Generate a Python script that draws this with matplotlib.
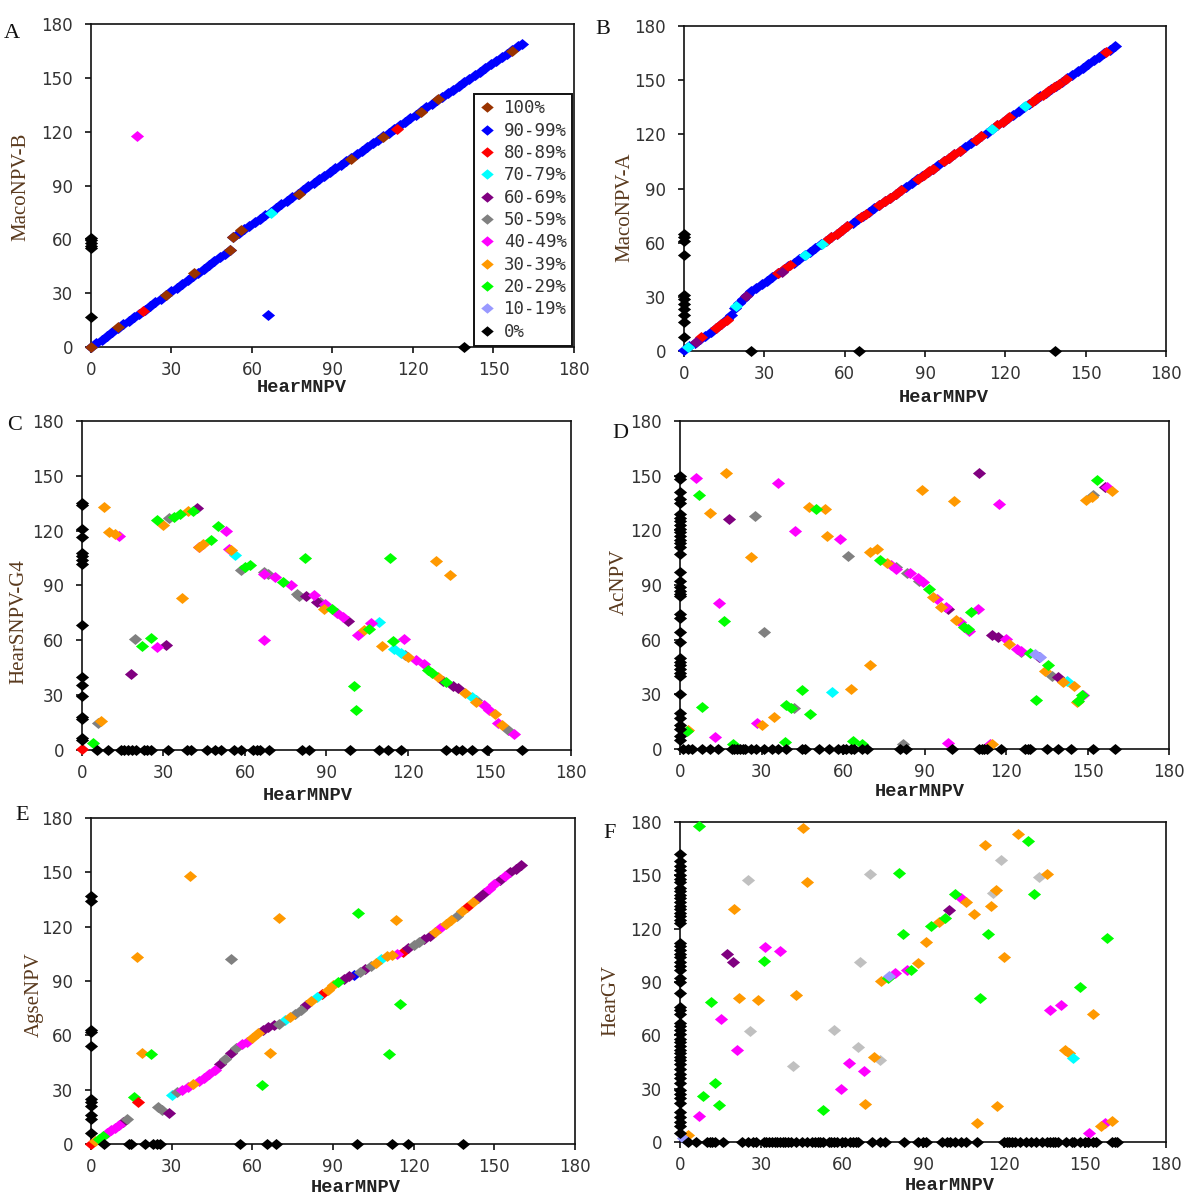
import matplotlib
matplotlib.use("Agg")
import matplotlib.pyplot as plt
from matplotlib.lines import Line2D

# identity classes, in legend order
cat_codes = ["100", "90", "80", "70", "60", "50", "40", "30", "20", "10", "0"]
cat_labels = ["100%", "90-99%", "80-89%", "70-79%", "60-69%", "50-59%",
              "40-49%", "30-39%", "20-29%", "10-19%", "0%"]
cat_colors = ["#993300", "#0000ff", "#ff0000", "#00ffff", "#800080", "#808080",
              "#ff00ff", "#ff9900", "#00ff00", "#9999ff", "#000000"]
silver = "#c0c0c0"

ticks = [0, 30, 60, 90, 120, 150, 180]

# ---------------- A : HearMNPV vs MacoNPV-B ----------------
a_line_x = [0, 2, 4, 6, 8, 10, 12, 14, 16, 18, 20, 22, 24, 26, 28, 30, 32, 34, 36, 38,
            40, 42, 44, 46, 48, 50, 52,
            53, 55, 57, 59, 61, 63, 65, 67, 69, 71, 73, 75, 77, 79, 81, 83, 85, 87, 89,
            91, 93, 95, 97, 99, 101, 103, 105, 107, 109, 111, 113, 115, 117, 119, 121,
            123, 125, 127, 129, 131, 133, 135, 137, 139, 141, 143, 145, 147, 149, 151,
            153, 155, 157, 159, 160.5]
a_line_y = [0, 2, 4, 6, 8.5, 10.5, 13, 14.5, 16.5, 18.5, 20.5, 23, 25, 27, 29, 31, 33, 35,
            37.5, 39.5, 41.5, 43.5, 45.5, 48, 50, 52, 54,
            61.5, 63.5, 65.5, 67.5, 69.5, 71.5, 73.5, 75.5, 77.5, 79.5, 81.5, 83.5, 85.5,
            87.5, 89.5, 91.5, 93.5, 95.5, 97.5, 99.5, 101.5, 103.5, 105.5, 107.5, 109.5,
            111.5, 113.5, 115.5, 117.5, 119.5, 121.5, 123.5, 125.5, 127.5, 129.5, 131.5,
            133.5, 135.5, 137.5, 139.5, 141.5, 143.5, 145.5, 147.5, 149.5, 151.5, 153.5,
            155.5, 157.5, 159.5, 161.5, 163.5, 165.5, 167.5, 169]
a_brown_x = [0, 10, 28, 38.5, 52, 53, 56, 77.5, 97, 109, 123, 129.5, 157]
a_brown_y = [0, 11, 29, 41, 54, 61.5, 65, 85, 105, 117, 131, 138, 165]
a_blue_x = [66]
a_blue_y = [18]
a_red_x = [19.5, 114]
a_red_y = [20, 121.5]
a_cyan_x = [67]
a_cyan_y = [74.5]
a_magenta_x = [17]
a_magenta_y = [117.5]
a_zero_on_y = [17, 55, 56.5, 58, 59.5, 61]
a_zero_on_x = [139]

# ---------------- B : HearMNPV vs MacoNPV-A ----------------
b_line_x = [0, 2, 4, 6, 8, 10, 12, 14, 16, 17.5, 19, 20.5, 22, 23.5,
            25, 27, 29, 31, 33, 35, 37, 39, 41, 43, 45, 47, 49, 51, 53, 55, 57, 59, 61,
            63, 65, 67, 69, 71, 73, 75, 77, 79, 81, 83, 85, 87, 89, 91, 93, 95, 97, 99,
            101, 103, 105, 107, 109, 111, 113, 115, 117, 119, 121, 123, 125, 127, 129,
            131, 133, 135, 137, 139, 141, 143, 145, 147, 149, 151, 153, 155, 157, 159, 161]
b_line_y = [0.5, 2.5, 4.5, 6.5, 8.5, 10.5, 13, 15, 17.5, 20, 24, 26.5, 29, 31,
            33, 35, 37, 39, 41, 43, 45, 47, 49, 51, 53, 55, 57, 59, 61, 63, 65, 67, 69,
            71, 73, 75, 77, 79, 81, 83, 85, 87, 89, 91, 93, 95, 97, 99, 101, 103, 105, 107,
            109, 111, 113, 115, 117, 119, 121, 123, 125, 127, 129, 131, 133, 135, 137,
            139, 141, 143, 145, 147, 149, 151, 153, 155, 157, 159, 161, 163, 165, 167, 169]
b_red_x = [6.5, 12, 14, 16, 35, 37.5, 39.5, 53, 55, 57, 59, 61, 66, 68, 73, 75, 77, 79,
           81, 87.5, 89.5, 91.5, 93, 97, 99, 101, 103, 109, 111, 117, 119, 121.5, 130,
           132, 134, 136, 138, 140, 142.5, 157.5]
b_red_y = [7.5, 13, 15, 17, 43, 45.5, 47.5, 61, 63, 65, 67, 69, 74, 76, 81, 83, 85, 87,
           89, 95.5, 97.5, 99.5, 101, 105, 107, 109, 111, 117, 119, 125, 127, 129.5, 138,
           140, 142, 144, 146, 148, 150.5, 165.5]
b_cyan_x = [1.5, 19.5, 45, 51.5, 115, 127.5]
b_cyan_y = [2, 25, 53, 59.5, 123, 135.5]
b_purple_x = [4.5, 23, 36.5]
b_purple_y = [5, 30.5, 44]
b_zero_on_y = [8, 16, 20, 23, 26, 29, 31, 53, 61, 63, 65]
b_zero_on_x = [25, 65.5, 138.5]

# ---------------- C : HearMNPV vs HearSNPV-G4 ----------------
c_orange_x = [8, 10, 12, 7, 37, 30, 39, 44.5, 43, 55, 89, 104, 110.5, 130.5, 135.5, 120,
              131, 141, 145, 152, 154.5]
c_orange_y = [133, 119.5, 118, 16, 83, 123, 130.5, 112.5, 111, 109.5, 77, 65.5, 57, 103.5,
              96, 51, 40, 31, 26.5, 19.5, 13.5]
c_green_x = [27.5, 34, 36, 41, 50, 47.5, 60, 62, 74, 92, 82, 113.5, 100, 101, 105.5,
             114.5, 127.5, 129, 134, 25.5, 22, 4]
c_green_y = [126, 127.5, 129, 131, 122.5, 115, 100, 101, 92, 77, 105, 105, 35, 22, 66,
             59.5, 44, 42, 37, 61, 57, 4]
c_magenta_x = [13.5, 43, 53, 54, 67, 71, 77, 85.5, 89.5, 94, 96, 67, 101.5, 106.5, 118.5,
               123, 126, 148, 150, 153, 159, 27.5]
c_magenta_y = [117, 111, 120, 110, 96.5, 94.5, 90, 85, 80, 75, 73, 60, 63, 69.5, 60.5,
               49, 47, 24.5, 22, 15, 9, 56.5]
c_purple_x = [42.5, 18, 31, 82.5, 86.5, 98, 133, 136.5, 138.5]
c_purple_y = [132.5, 41.5, 57.5, 84, 81, 70.5, 37.5, 35, 34]
c_gray_x = [19.5, 32, 58.5, 67, 68.5, 79, 80, 87.5, 119, 145, 157, 6]
c_gray_y = [60.5, 127, 98.5, 97.5, 96.5, 85.5, 84, 81, 52, 27.5, 11, 15]
c_cyan_x = [56.5, 109.5, 115, 117.5, 143.5]
c_cyan_y = [106.5, 70, 55.5, 53, 29]
c_red_x = [0]
c_red_y = [0.5]
c_zero_on_y = [135, 134, 121, 116.5, 107.5, 106, 104, 102, 68.5, 40, 35.5, 29.5, 18, 17,
               6.5, 5.5]
c_zero_on_x = [5.5, 9.5, 14.5, 15.5, 17, 18.5, 20, 23, 24, 25.5, 31.5, 38.5, 40, 46, 49,
               51, 56, 58.5, 63, 64.5, 65.5, 69, 81, 83.5, 98.5, 109.5, 112.5, 117.5, 134,
               137.5, 140, 143.5, 149, 162]

# ---------------- D : HearMNPV vs AcNPV ----------------
d_orange_x = [17, 11, 26, 47.5, 53.5, 54, 70, 72.5, 76, 89, 101, 93, 96, 101.5, 121,
              134.5, 141, 145, 146, 149.5, 151.5, 159, 70, 63, 34.5, 30, 3, 115]
d_orange_y = [151.5, 129.5, 105.5, 133, 131.5, 117, 108, 110, 102, 142, 136, 83.5, 78,
              71, 57.5, 43, 37, 34.5, 26, 136.5, 138.5, 141.5, 46, 33, 17.5, 13, 10.5, 2.5]
d_green_x = [7, 50, 16, 8, 39, 41, 45, 48, 38.5, 19.5, 63.5, 67, 73.5, 91.5, 104.5, 106,
             107, 129, 135.5, 131, 146.5, 148, 153.5, 2.5]
d_green_y = [139.5, 132, 70.5, 23, 24, 22.5, 32.5, 19, 4, 2.5, 4.5, 3, 104, 88, 67, 66,
             75, 52.5, 46, 27, 26.5, 29.5, 147.5, 10]
d_magenta_x = [6, 36, 117.5, 42.5, 59, 14.5, 77.5, 79.5, 84.5, 87.5, 89.5, 94.5, 98, 103,
               106.5, 109.5, 120, 124, 125.5, 28.5, 13, 98.5, 114, 148.5, 157]
d_magenta_y = [148.5, 146, 134.5, 119.5, 115.5, 80, 101, 99, 96.5, 94, 91.5, 82.5, 78,
               70, 65, 77, 60.5, 55, 54, 14.5, 6.5, 3.5, 3, 29.5, 144]
d_purple_x = [18, 110, 98.5, 115, 117, 132, 139, 156.5]
d_purple_y = [126, 151.5, 77, 62.5, 61.5, 50.5, 39.5, 144]
d_gray_x = [27.5, 62, 31, 42, 79.5, 83.5, 88, 125.5, 137, 152, 82]
d_gray_y = [128, 106, 64.5, 22.5, 100, 96.5, 92.5, 53, 40, 139.5, 3]
d_cyan_x = [56, 142.5]
d_cyan_y = [31.5, 37.5]
d_lilac_x = [130.5, 132.5]
d_lilac_y = [52, 50.5]
d_zero_on_y = [150, 148, 141, 137, 135, 129, 127, 125, 123, 121, 119, 117, 115, 113, 111,
               107, 97, 92, 89, 87, 85, 84, 74, 72, 64, 59, 50, 48, 46, 44, 42, 40, 30, 20,
               17, 13, 11, 7, 5]
d_zero_on_x = [1, 3, 4.5, 8, 11, 14, 19, 20, 21, 22, 23, 24, 26, 28, 31, 34, 36, 39, 45,
               46, 51, 55, 58, 60, 61, 63, 64, 67, 69, 81, 83, 100, 110, 111, 112, 113, 118,
               127, 128, 129, 135, 139, 144, 152, 160]

# ---------------- E : HearMNPV vs AgseNPV ----------------
e_line_x = [0, 1.5, 3, 4.5, 6, 7.5, 9, 10.5, 12, 13.5,
            30, 32, 34, 36, 38, 40, 42, 44, 46, 48, 50, 52, 54, 56, 58, 60, 62, 64, 66, 68,
            70, 72, 74, 76, 78, 80, 82, 84, 86, 88, 90, 92, 94, 96, 98, 100, 102, 104, 106,
            108, 110, 112, 114, 116, 118, 120, 122, 124, 126, 128, 130, 132, 134, 136, 138,
            140, 142, 144, 146, 148, 150, 152, 154, 156, 158, 160]
e_line_y = [0, 1.5, 3, 4.5, 6, 7.5, 9, 10.5, 12, 14,
            27, 28.5, 30, 31.5, 33, 34.5, 36.5, 38.5, 41, 44, 47, 50, 53, 55, 56.5, 58.5,
            61, 63, 64.5, 65.5, 66.5, 68.5, 70, 71.5, 74, 76.5, 79, 81, 83, 85, 87.5, 89.5,
            91, 92.5, 93.5, 95, 96.5, 98.5, 100, 102, 103.5, 104.5, 105, 106, 108, 110,
            111.5, 113, 115, 117, 119.5, 121.5, 123.5, 126, 128.5, 131, 133.5, 136, 138.5,
            141, 143.5, 146, 148, 150, 152, 154]
e_line_cat = ["80", "30", "20", "20", "40", "40", "40", "40", "60", "50",
              "70", "50", "40", "40", "30", "40", "40", "40", "40", "60",
              "50", "60", "50", "40", "40", "30", "30", "60", "60", "60",
              "50", "70", "30", "50", "50", "60", "30", "70", "80", "30",
              "30", "20", "60", "60", "90", "50", "60", "50", "30", "70",
              "30", "30", "40", "80", "60", "50", "50", "60", "60", "30",
              "40", "30", "30", "50", "30", "80", "30", "60", "60", "40",
              "40", "60", "40", "60", "60", "60"]
e_orange_x = [37, 70, 113.5, 17, 19, 66.5]
e_orange_y = [148, 125, 123.5, 103, 50, 50]
e_green_x = [99.5, 22.5, 63.5, 111, 115, 16]
e_green_y = [127.5, 49.5, 32.5, 49.5, 77.5, 26]
e_gray_x = [52, 25, 26.5]
e_gray_y = [102, 20.5, 19]
e_purple_x = [29]
e_purple_y = [17]
e_red_x = [17.5]
e_red_y = [23]
e_zero_on_y = [137, 134, 63, 62, 54, 25, 23, 21, 16, 14, 6]
e_zero_on_x = [5, 14, 15, 20, 23, 24.5, 25.5, 55.5, 65.5, 69, 99, 112, 118, 138.5]

# ---------------- F : HearMNPV vs HearGV ----------------
f_green_x = [7, 81, 11.5, 31, 13, 14.5, 8.5, 53, 82.5, 102, 93, 98, 85.5, 114, 111, 129,
             131, 148, 158, 77]
f_green_y = [178, 151.5, 78.5, 102, 33, 21, 26, 18, 117, 139.5, 121.5, 126, 97, 117, 81,
             169.5, 139.5, 87, 114.5, 92]
f_orange_x = [45.5, 47, 20, 22, 29, 43, 74.5, 88, 91, 96, 106, 109, 113, 115, 117, 120,
              125, 136, 142.5, 153, 156, 160, 72, 68.5, 110, 117.5, 3, 144]
f_orange_y = [176.5, 146.5, 131, 81, 80, 82.5, 90.5, 100.5, 112.5, 124, 135, 128.5, 167,
              133, 141.5, 104, 173, 150.5, 51.5, 72, 9, 12, 48, 21.5, 10.5, 20.5, 4, 50]
f_magenta_x = [7, 15, 21, 31.5, 37, 59.5, 62.5, 68, 79.5, 84, 104, 137, 141, 151.5, 157.5]
f_magenta_y = [14.5, 69, 52, 109.5, 107.5, 30, 44.5, 40, 95, 96.5, 137, 74.5, 77, 5, 10.5]
f_purple_x = [17.5, 19.5, 99.5]
f_purple_y = [105.5, 101.5, 130.5]
f_silver_x = [25, 26, 42, 57, 66, 66.5, 70.5, 74, 116, 119, 133]
f_silver_y = [147.5, 62.5, 42.5, 63, 53.5, 101.5, 150.5, 46, 140, 158.5, 149]
f_lilac_x = [77.5, 1]
f_lilac_y = [93.5, 2]
f_cyan_x = [145.5]
f_cyan_y = [47.5]
f_zero_on_y = [162, 158, 155, 153, 150, 148, 146, 143, 141, 139, 137, 135, 133, 131, 129,
               127, 125, 123, 112, 110, 108, 106, 104, 101, 99, 97, 92, 90, 84, 76, 74, 72,
               67, 65, 63, 61, 58, 56, 54, 52, 50, 48, 46, 44, 41, 38, 36, 33, 29, 27, 25,
               22, 17, 14, 11, 9, 5]
f_zero_on_x = [3, 6, 10, 11, 12, 13, 16, 23, 25, 27, 28, 31, 32, 33, 34, 35, 36, 37, 38,
               39, 40, 41, 43, 45, 47, 49, 50, 51, 52, 53, 55, 56, 57, 58, 60, 61, 63, 64,
               65, 66, 71, 74, 76, 83, 88, 90, 91, 97, 99, 100, 102, 104, 106, 110, 120,
               121, 122, 123, 124, 126, 128, 130, 132, 134, 136, 137, 138, 139, 140, 143,
               145, 146, 148, 150, 151, 153, 154, 160, 161, 162]

col = dict(zip(cat_codes, cat_colors))
col["x"] = silver

TICK_COL = "#333333"
YLAB_COL = "#5a3a1e"
MS = 90
# diamond a little wider than tall, like the original Excel marker
DIAMOND = [(-0.6, 0), (0, 0.5), (0.6, 0), (0, -0.5), (-0.6, 0)]


def dots(ax, x, y, code, z=3):
    ax.scatter(x, y, s=MS, marker=DIAMOND, c=col[code], linewidths=0,
               clip_on=False, zorder=z)


def zeros(ax, on_y, on_x):
    dots(ax, [0] * len(on_y), on_y, "0", z=5)
    dots(ax, on_x, [0] * len(on_x), "0", z=5)


def frame(ax):
    ax.set_xlim(0, 180)
    ax.set_ylim(0, 180)
    ax.set_xticks(ticks)
    ax.set_yticks(ticks)
    for sp in ax.spines.values():
        sp.set_linewidth(1.2)
        sp.set_color("#111111")
    ax.tick_params(direction="out", length=4, width=1.2, colors="#111111",
                   labelcolor=TICK_COL, labelsize=12, pad=6)
    ax.tick_params(axis="y", pad=9)
    for lab in ax.get_xticklabels() + ax.get_yticklabels():
        lab.set_family("DejaVu Sans")


fig = plt.figure(figsize=(12, 12), dpi=100)

axA = fig.add_axes([0.0758, 0.7108, 0.4025, 0.2692])
axB = fig.add_axes([0.5700, 0.7075, 0.4017, 0.2708])
axC = fig.add_axes([0.0683, 0.3750, 0.4075, 0.2742])
axD = fig.add_axes([0.5667, 0.3758, 0.4075, 0.2733])
axE = fig.add_axes([0.0758, 0.0467, 0.4033, 0.2717])
axF = fig.add_axes([0.5667, 0.0483, 0.4050, 0.2667])
for ax in (axA, axB, axC, axD, axE, axF):
    frame(ax)

# A
dots(axA, a_line_x, a_line_y, "90")
dots(axA, a_blue_x, a_blue_y, "90")
dots(axA, a_brown_x, a_brown_y, "100", z=4)
dots(axA, a_red_x, a_red_y, "80", z=4)
dots(axA, a_cyan_x, a_cyan_y, "70", z=4)
dots(axA, a_magenta_x, a_magenta_y, "40", z=4)
zeros(axA, a_zero_on_y, a_zero_on_x)

# B
dots(axB, b_line_x, b_line_y, "90")
dots(axB, b_red_x, b_red_y, "80", z=4)
dots(axB, b_cyan_x, b_cyan_y, "70", z=4)
dots(axB, b_purple_x, b_purple_y, "60", z=4)
zeros(axB, b_zero_on_y, b_zero_on_x)

# C
dots(axC, c_gray_x, c_gray_y, "50")
dots(axC, c_purple_x, c_purple_y, "60")
dots(axC, c_cyan_x, c_cyan_y, "70")
dots(axC, c_magenta_x, c_magenta_y, "40")
dots(axC, c_orange_x, c_orange_y, "30")
dots(axC, c_green_x, c_green_y, "20")
dots(axC, c_red_x, c_red_y, "80")
zeros(axC, c_zero_on_y, c_zero_on_x)

# D
dots(axD, d_gray_x, d_gray_y, "50")
dots(axD, d_purple_x, d_purple_y, "60")
dots(axD, d_cyan_x, d_cyan_y, "70")
dots(axD, d_magenta_x, d_magenta_y, "40")
dots(axD, d_orange_x, d_orange_y, "30")
dots(axD, d_green_x, d_green_y, "20")
dots(axD, d_lilac_x, d_lilac_y, "10")
zeros(axD, d_zero_on_y, d_zero_on_x)

# E
for code in cat_codes:
    xs = [x for x, c in zip(e_line_x, e_line_cat) if c == code]
    ys = [y for y, c in zip(e_line_y, e_line_cat) if c == code]
    if xs:
        dots(axE, xs, ys, code)
dots(axE, e_orange_x, e_orange_y, "30")
dots(axE, e_green_x, e_green_y, "20")
dots(axE, e_gray_x, e_gray_y, "50")
dots(axE, e_purple_x, e_purple_y, "60")
dots(axE, e_red_x, e_red_y, "80")
zeros(axE, e_zero_on_y, e_zero_on_x)

# F
dots(axF, f_silver_x, f_silver_y, "x")
dots(axF, f_purple_x, f_purple_y, "60")
dots(axF, f_magenta_x, f_magenta_y, "40")
dots(axF, f_orange_x, f_orange_y, "30")
dots(axF, f_green_x, f_green_y, "20")
dots(axF, f_lilac_x, f_lilac_y, "10")
dots(axF, f_cyan_x, f_cyan_y, "70")
zeros(axF, f_zero_on_y, f_zero_on_x)

# legend in panel A
handles = [Line2D([], [], marker=DIAMOND, ls="none", color=c, markersize=9,
                  markeredgewidth=0) for c in cat_colors]
leg = axA.legend(handles, cat_labels, loc="upper right",
                 bbox_to_anchor=(0.996, 0.783), borderaxespad=0,
                 prop={"family": "DejaVu Sans Mono", "size": 12.5},
                 labelspacing=0.25, handlelength=0.9, handletextpad=0.5,
                 borderpad=0.3, fancybox=False, framealpha=1)
leg.get_frame().set_edgecolor("#111111")
leg.get_frame().set_linewidth(1.4)
for t in leg.get_texts():
    t.set_color(TICK_COL)


# panel letters, axis titles (figure pixel positions / 1200)
def ftext(px, py, s, **kw):
    fig.text(px / 1200, 1 - py / 1200, s, ha="center", va="center", **kw)


for px, py, s in [(12, 33, "A"), (603, 30, "B"), (15, 425, "C"),
                  (620, 433, "D"), (22, 816, "E"), (610, 833, "F")]:
    ftext(px, py, s, family="Liberation Serif", fontsize=16, color="#111111")

for px, py, s in [(21, 187, "MacoNPV-B"), (625, 207, "MacoNPV-A"),
                  (19, 622, "HearSNPV-G4"), (619, 582, "AcNPV"),
                  (34, 995, "AgseNPV"), (611, 1000, "HearGV")]:
    ftext(px, py, s, family="Liberation Serif", fontsize=15, color=YLAB_COL,
          rotation=90)

for px, py in [(302, 388), (944, 397), (308, 795), (920, 792),
               (356, 1187), (950, 1186)]:
    ftext(px, py, "HearMNPV", family="Liberation Mono", fontweight="bold",
          fontsize=13.5, color="#222222")

fig.savefig("out.png", dpi=100, facecolor="white")
